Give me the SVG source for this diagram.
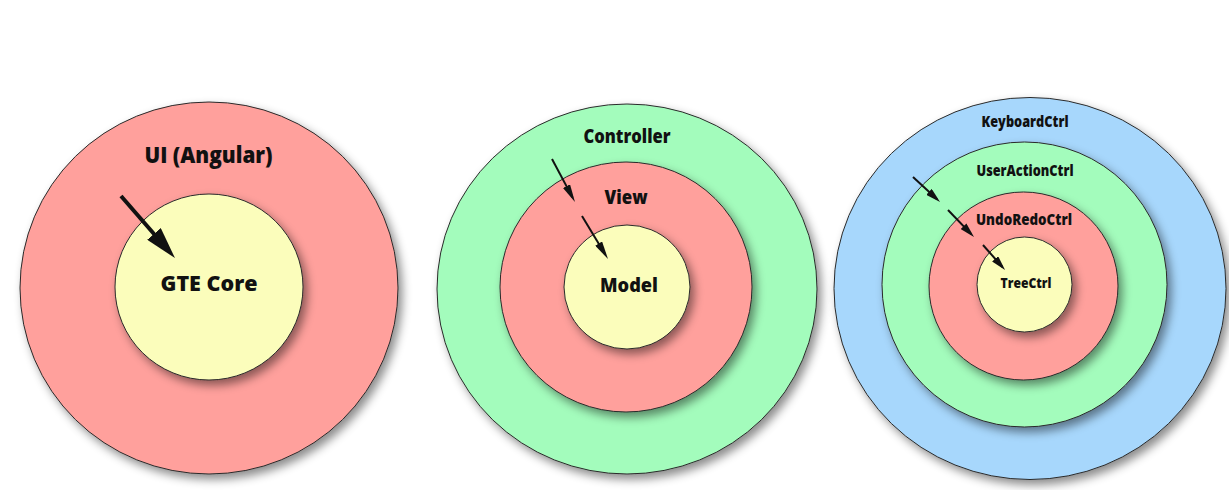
<svg xmlns="http://www.w3.org/2000/svg" width="1229" height="490" viewBox="0 0 1229 490">
  <defs>
    <filter id="sh" x="-20%" y="-20%" width="140%" height="140%">
      <feDropShadow dx="4" dy="5" stdDeviation="5" flood-color="#000" flood-opacity="0.45"/>
    </filter>
    <marker id="bigHead" markerUnits="userSpaceOnUse" viewBox="0 0 32 18" markerWidth="32" markerHeight="18" refX="22" refY="9" orient="auto">
      <path d="M0,0 L32,9 L0,18 z" fill="#111"/>
    </marker>
    <marker id="midHead" markerUnits="userSpaceOnUse" viewBox="0 0 18 8" markerWidth="18" markerHeight="8" refX="13" refY="4" orient="auto">
      <path d="M0,0 L18,4 L0,8 z" fill="#111"/>
    </marker>
    <marker id="smallHead" markerUnits="userSpaceOnUse" viewBox="0 0 15 8" markerWidth="15" markerHeight="8" refX="11" refY="4" orient="auto">
      <path d="M0,0 L15,4 L0,8 z" fill="#111"/>
    </marker>
  </defs>
  <style>
    .c { stroke: #2a2a2a; stroke-width: 1; filter: url(#sh); }
    .red { fill: #ffa09c; }
    .yel { fill: #fbfdbb; }
    .grn { fill: #a3fcbc; }
    .blu { fill: #a7d7fc; }
    text { font-family: "Open Sans", "Liberation Sans", sans-serif; font-weight: 800; fill: #111; text-anchor: middle; }
    .big { stroke: #111; stroke-width: 4; fill: none; }
    .thin { stroke: #111; stroke-width: 2; fill: none; }
  </style>
  <rect width="1229" height="490" fill="#fff"/>

  <g id="ui-angular">
    <ellipse class="c red" cx="209" cy="288" rx="189" ry="186"/>
    <text x="208.5" y="163" font-size="23" textLength="128" lengthAdjust="spacingAndGlyphs">UI (Angular)</text>
  </g>
  <g id="gte-core">
    <ellipse class="c yel" cx="209" cy="287" rx="94" ry="93"/>
    <text x="209" y="291" font-size="21" textLength="97" lengthAdjust="spacingAndGlyphs">GTE Core</text>
  </g>

  <g id="controller">
    <ellipse class="c grn" cx="627" cy="289" rx="190" ry="185"/>
    <text x="627" y="143" font-size="19" textLength="87" lengthAdjust="spacingAndGlyphs">Controller</text>
  </g>
  <g id="view">
    <ellipse class="c red" cx="626" cy="287" rx="126" ry="125"/>
    <text x="626" y="204" font-size="19" textLength="43" lengthAdjust="spacingAndGlyphs">View</text>
  </g>
  <g id="model">
    <ellipse class="c yel" cx="627" cy="287" rx="63" ry="62"/>
    <text x="629" y="292" font-size="20" textLength="58" lengthAdjust="spacingAndGlyphs">Model</text>
  </g>

  <g id="keyboardctrl">
    <ellipse class="c blu" cx="1030" cy="288.5" rx="196" ry="191"/>
    <text x="1025" y="127" font-size="15" textLength="87" lengthAdjust="spacingAndGlyphs">KeyboardCtrl</text>
  </g>
  <g id="useractionctrl">
    <ellipse class="c grn" cx="1024.5" cy="284.5" rx="142.5" ry="142.5"/>
    <text x="1025" y="176" font-size="15" textLength="97" lengthAdjust="spacingAndGlyphs">UserActionCtrl</text>
  </g>
  <g id="undoredoctrl">
    <ellipse class="c red" cx="1023.5" cy="286" rx="94.5" ry="94"/>
    <text x="1024" y="225" font-size="15" textLength="96" lengthAdjust="spacingAndGlyphs">UndoRedoCtrl</text>
  </g>
  <g id="treectrl">
    <ellipse class="c yel" cx="1024.5" cy="284.5" rx="47.5" ry="47.5"/>
    <text x="1026" y="288" font-size="14" textLength="51" lengthAdjust="spacingAndGlyphs">TreeCtrl</text>
  </g>

  <g id="connectors">
    <line class="big" x1="121" y1="196" x2="168.4" y2="250.5" marker-end="url(#bigHead)"/>
    <line class="thin" x1="552" y1="159" x2="572.6" y2="197.6" marker-end="url(#midHead)"/>
    <line class="thin" x1="582" y1="216" x2="605.4" y2="254.7" marker-end="url(#midHead)"/>
    <line class="thin" x1="913" y1="177" x2="937.1" y2="199.3" marker-end="url(#smallHead)"/>
    <line class="thin" x1="948" y1="210" x2="971.2" y2="234.1" marker-end="url(#smallHead)"/>
    <line class="thin" x1="983" y1="245" x2="1002.4" y2="267" marker-end="url(#smallHead)"/>
  </g>
</svg>
